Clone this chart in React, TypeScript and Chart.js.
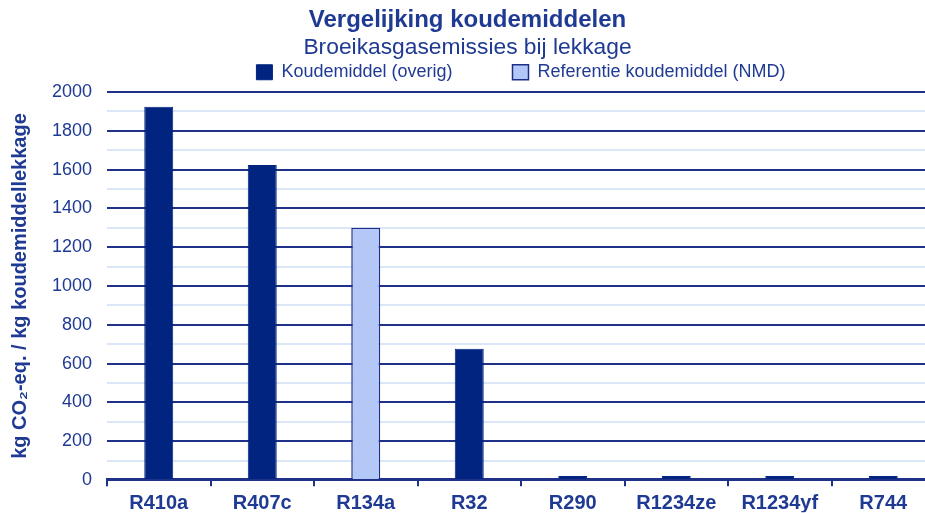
import React, { useEffect, useRef } from 'react';
import { Chart, registerables } from 'chart.js';

Chart.register(...registerables);

const categories = ['R410a', 'R407c', 'R134a', 'R32', 'R290', 'R1234ze', 'R1234yf', 'R744'];
const overigValues = [1924, 1624, null, 677, 3, 1, 1, 1];
const referentieValues = [null, null, 1300, null, null, null, null, null];
const seriesLabels = ['Koudemiddel (overig)', 'Referentie koudemiddel (NMD)'];
const titleText = 'Vergelijking koudemiddelen';
const subtitleText = 'Broeikasgasemissies bij lekkage';
const yAxisTitle = 'kg CO₂-eq. / kg koudemiddellekkage';
const yMin = 0;
const yMax = 2000;
const yMinorStep = 100;
const yMajorStep = 200;

const FONT = "'Liberation Sans', Arial, sans-serif";
const TEXT = '#1f3a93';
const DARK = '#00247f';
const LIGHT = '#b4c8f8';
const BORDER = '#1c2f86';
const MAJOR = '#1f3188';
const MINOR = '#dce6f9';

export default function App() {
  const ref = useRef<HTMLCanvasElement>(null);

  useEffect(() => {
    const chart = new Chart(ref.current as HTMLCanvasElement, {
      type: 'bar',
      data: {
        labels: categories,
        datasets: [
          {
            label: seriesLabels[0],
            data: overigValues,
            backgroundColor: DARK,
            borderColor: DARK,
            borderWidth: 1,
            minBarLength: 4,
          },
          {
            label: seriesLabels[1],
            data: referentieValues,
            backgroundColor: LIGHT,
            borderColor: BORDER,
            borderWidth: 1.5,
          },
        ],
      },
      options: {
        responsive: false,
        maintainAspectRatio: false,
        animation: false,
        layout: { padding: 0 },
        datasets: { bar: { categoryPercentage: 1, barPercentage: 0.28 } },
        plugins: {
          title: {
            display: true,
            text: titleText,
            color: TEXT,
            font: { family: FONT, size: 24, weight: 'bold' },
            padding: { top: 6, bottom: -30.8 },
          },
          subtitle: {
            display: true,
            text: subtitleText,
            color: TEXT,
            font: { family: FONT, size: 22.8, weight: 'normal' },
            padding: { top: 30.2, bottom: -58.3 },
          },
          legend: {
            display: true,
            fullSize: false,
            labels: {
              color: TEXT,
              font: { family: FONT, size: 18 },
              boxWidth: 16,
              boxHeight: 15,
              padding: 60,
            },
          },
          tooltip: { enabled: false },
        },
        scales: {
          x: {
            stacked: true,
            offset: true,
            grid: {
              display: true,
              drawOnChartArea: false,
              drawTicks: true,
              tickLength: 7,
              color: MAJOR,
              lineWidth: 2,
              offset: true,
            },
            border: { display: true, color: MAJOR, width: 2 },
            ticks: {
              color: TEXT,
              font: { family: FONT, size: 20, weight: 'bold' },
              padding: 5,
              maxRotation: 0,
              autoSkip: false,
            },
            afterFit: (s: any) => {
              s.height = 33;
            },
          },
          y: {
            stacked: true,
            min: yMin,
            max: yMax,
            ticks: {
              stepSize: yMinorStep,
              autoSkip: false,
              color: TEXT,
              font: { family: FONT, size: 18 },
              padding: 15,
              callback: (v: any) => (Number(v) % yMajorStep === 0 ? String(v) : ''),
            },
            grid: {
              drawTicks: false,
              lineWidth: 2,
              color: (ctx: any) =>
                ctx.tick && ctx.tick.value % yMajorStep === 0 ? MAJOR : MINOR,
            },
            border: { display: false },
            title: {
              display: true,
              text: yAxisTitle,
              color: TEXT,
              font: { family: FONT, size: 20, weight: 'bold' },
              padding: { top: 8, bottom: 0 },
            },
            afterFit: (s: any) => {
              s.width = 107;
            },
          },
        },
      },
    } as any);
    return () => chart.destroy();
  }, []);

  return (
    <div
      style={{
        position: 'fixed',
        left: 0,
        top: 0,
        width: 925,
        height: 513,
        overflow: 'hidden',
        background: '#ffffff',
      }}
    >
      <canvas ref={ref} width={935} height={513} />
    </div>
  );
}
